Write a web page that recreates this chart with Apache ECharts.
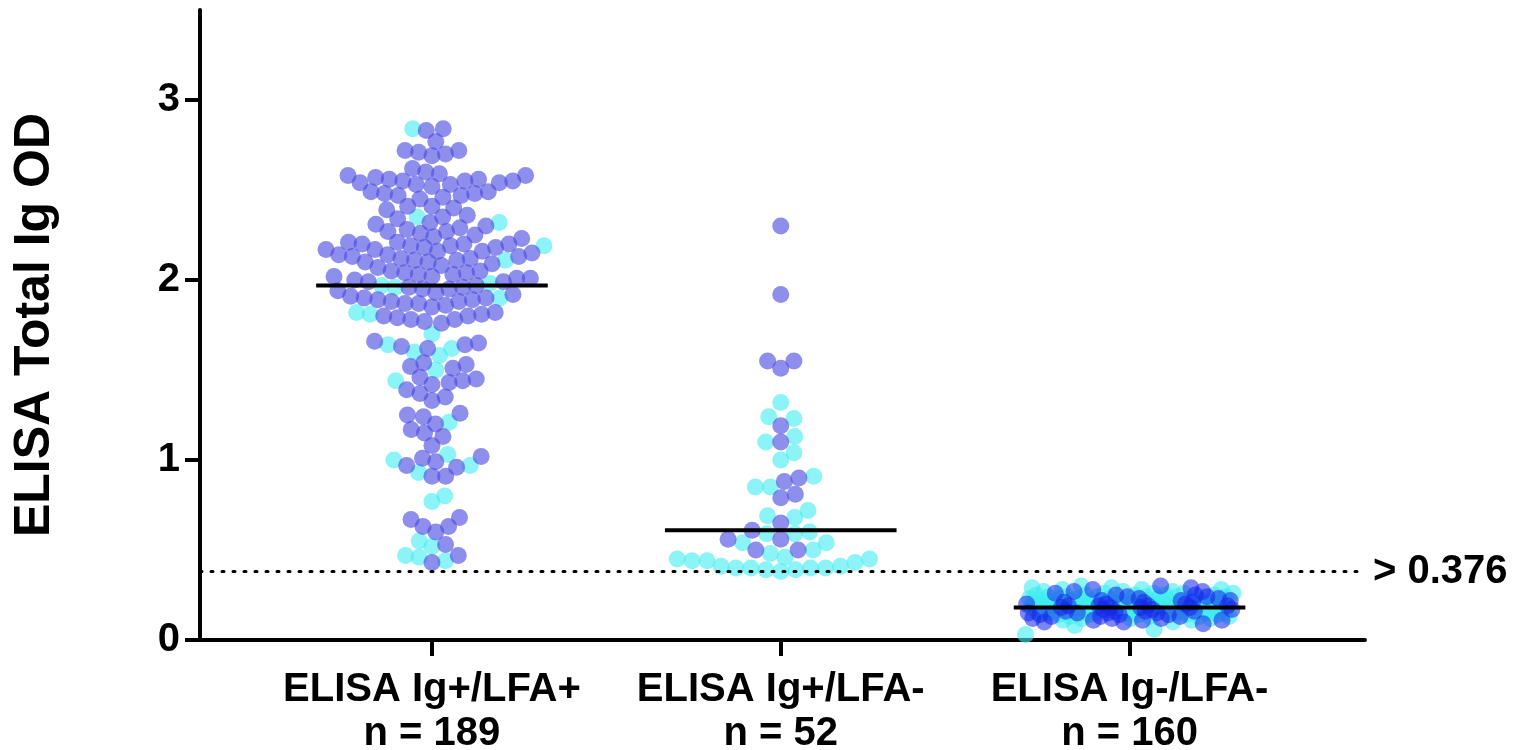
<!DOCTYPE html>
<html><head><meta charset="utf-8">
<script src="https://cdn.jsdelivr.net/npm/echarts@6/dist/echarts.min.js"></script>
<style>html,body{margin:0;padding:0;background:#fff}#c{width:1518px;height:750px}</style>
</head><body><div id="c"></div>
<script>
const categories = ['ELISA Ig+/LFA+', 'ELISA Ig+/LFA-', 'ELISA Ig-/LFA-'];
const counts = ['n = 189', 'n = 52', 'n = 160'];
const yTicks = [0, 1, 2, 3];
const medians = [1.97, 0.61, 0.18];
const threshold = 0.376;
const thresholdLabel = '> 0.376';

const g1Purple = [
2.84, 2.83, 2.77,
2.72, 2.71, 2.72, 2.70, 2.69,
2.62, 2.60, 2.59, 2.58, 2.57, 2.58,
2.55, 2.54, 2.56, 2.55, 2.53, 2.54, 2.55, 2.56, 2.52, 2.53,
2.49, 2.48, 2.47, 2.46, 2.48, 2.45, 2.47, 2.49,
2.41, 2.40, 2.39, 2.41,
2.36, 2.34, 2.32, 2.35, 2.30, 2.31,
2.29, 2.28, 2.27, 2.26, 2.25, 2.27, 2.24, 2.23,
2.20, 2.19, 2.21, 2.18, 2.20, 2.19, 2.17, 2.16, 2.21, 2.18, 2.20, 2.17, 2.16, 2.15, 2.14, 2.14,
2.13, 2.12, 2.11, 2.10, 2.12, 2.09, 2.08, 2.11, 2.10, 2.07, 2.13,
2.05, 2.04, 2.03, 2.02, 2.01, 2.00, 2.04, 2.03, 2.02, 1.99, 2.01, 2.05, 1.99,
1.97, 1.96, 1.95, 1.96, 1.94, 1.93, 1.95, 1.92,
1.91, 1.90, 1.89, 1.88, 1.87, 1.90, 1.89, 1.88, 1.86, 1.87, 1.85,
1.82, 1.81, 1.80, 1.79, 1.78, 1.77, 1.76, 1.80, 1.78,
1.66, 1.65, 1.64, 1.63, 1.62,
1.54, 1.53, 1.52, 1.51,
1.46, 1.45, 1.44, 1.43, 1.42,
1.39, 1.37, 1.35, 1.33,
1.26, 1.25, 1.24, 1.20, 1.17, 1.15, 1.13,
1.08, 1.02, 1.01, 0.99, 0.97, 0.96, 0.91, 0.91,
0.68, 0.67, 0.63, 0.63, 0.60,
0.53, 0.47, 0.43
];
const g1Cyan = [2.84, 2.35, 2.32, 2.19, 2.11, 1.98, 1.97, 1.96, 1.90, 1.82, 1.81, 1.70, 1.64, 1.62, 1.60,
1.58, 1.50, 1.44, 1.21, 1.03, 1.00, 0.97, 0.93, 0.80, 0.77, 0.55, 0.52, 0.47, 0.46, 0.44];

const g2Purple = [2.30, 1.92, 1.55, 1.55, 1.51, 1.19, 1.10, 0.90, 0.88, 0.81, 0.79, 0.65, 0.61, 0.56, 0.56, 0.50, 0.50];
const g2Cyan = [1.32, 1.24, 1.23, 1.13, 1.10, 1.04, 1.00, 0.91, 0.85, 0.85, 0.72, 0.69, 0.68, 0.60, 0.59, 0.59,
0.54, 0.54, 0.50, 0.48, 0.46, 0.45, 0.45, 0.44, 0.44, 0.43, 0.41, 0.41, 0.40, 0.40, 0.40, 0.40, 0.39, 0.39, 0.38];

const g3Blue = [0.30, 0.29, 0.28, 0.27, 0.27, 0.26, 0.25, 0.25, 0.24, 0.24, 0.23, 0.23, 0.22, 0.22,
0.21, 0.21, 0.21, 0.20, 0.20, 0.20, 0.19, 0.19, 0.19, 0.18, 0.18, 0.18, 0.18, 0.17, 0.17, 0.17,
0.16, 0.16, 0.16, 0.15, 0.15, 0.15, 0.15, 0.14, 0.14, 0.14, 0.13, 0.13, 0.13, 0.12, 0.12, 0.12,
0.11, 0.11, 0.11, 0.10, 0.10, 0.09, 0.22, 0.19, 0.16];
const g3Cyan = [0.30, 0.29, 0.29, 0.28, 0.28, 0.28, 0.27, 0.27, 0.27, 0.26, 0.26, 0.26, 0.26,
0.25, 0.25, 0.25, 0.25, 0.25, 0.24, 0.24, 0.24, 0.24, 0.24, 0.24, 0.23, 0.23, 0.23, 0.23, 0.23, 0.23,
0.22, 0.22, 0.22, 0.22, 0.22, 0.22, 0.22, 0.21, 0.21, 0.21, 0.21, 0.21, 0.21, 0.21,
0.20, 0.20, 0.20, 0.20, 0.20, 0.20, 0.20, 0.20, 0.19, 0.19, 0.19, 0.19, 0.19, 0.19, 0.19, 0.19,
0.18, 0.18, 0.18, 0.18, 0.18, 0.18, 0.18, 0.17, 0.17, 0.17, 0.17, 0.17, 0.17, 0.17,
0.16, 0.16, 0.16, 0.16, 0.16, 0.16, 0.16, 0.15, 0.15, 0.15, 0.15, 0.15, 0.15,
0.14, 0.14, 0.14, 0.14, 0.14, 0.13, 0.13, 0.13, 0.13, 0.12, 0.12, 0.12, 0.11, 0.11, 0.10, 0.08, 0.06, 0.03];

// ---- layout of the swarm (pixel-based collision, then mapped back to axis units) ----
const X_MIN = -0.665, X_MAX = 2.675, Y_MAX = 3.5;
const GRID = {left: 200, right: 153, top: 10, bottom: 110, outerBoundsMode: 'none', containLabel: false};
const PX_X = (1518 - GRID.left - GRID.right) / (X_MAX - X_MIN);
const PX_Y = (750 - GRID.top - GRID.bottom) / Y_MAX;
const DOT = 17, SPACING = 15, MAX_HALF = 112, DENSE_HALF = 104;

function swarm(groupIdx, sets) {
  const pts = [];
  sets.forEach((vals, si) => vals.forEach(v => pts.push({v, si, y: v * PX_Y, x: 0})));
  pts.sort((a, b) => a.v - b.v);
  const placed = [];
  const d = SPACING;
  for (const p of pts) {
    const near = placed.filter(q => Math.abs(q.y - p.y) < d);
    const cands = [0];
    near.forEach(q => {
      const dx = Math.sqrt(d * d - (q.y - p.y) * (q.y - p.y));
      cands.push(q.x + dx, q.x - dx);
    });
    cands.sort((a, b) => Math.abs(a) - Math.abs(b));
    for (const c of cands) {
      const ok = near.every(q => (q.x - c) * (q.x - c) + (q.y - p.y) * (q.y - p.y) >= d * d - 0.01);
      if (ok) { p.x = c; break; }
    }
    placed.push(p);
  }
  const maxAbs = Math.max(...placed.map(p => Math.abs(p.x)));
  const k = maxAbs > MAX_HALF ? MAX_HALF / maxAbs : 1;
  const out = sets.map(() => []);
  placed.forEach(p => out[p.si].push([groupIdx + p.x * k / PX_X, p.v]));
  return out;
}

// too many points for a swarm: spread them evenly across the column width (low-discrepancy order)
function denseColumn(groupIdx, sets) {
  const pts = [];
  sets.forEach((vals, si) => vals.forEach(v => pts.push({v, si})));
  pts.sort((a, b) => a.v - b.v);
  const out = sets.map(() => []);
  pts.forEach((p, i) => {
    const f = (i * 0.6180339887) % 1;
    out[p.si].push([groupIdx + (f * 2 - 1) * DENSE_HALF / PX_X, p.v]);
  });
  return out;
}

const s1 = swarm(0, [g1Purple, g1Cyan]);
const s2 = swarm(1, [g2Purple, g2Cyan]);
const s3 = denseColumn(2, [g3Blue, g3Cyan]);

const FONT = 'Liberation Sans, Arial, sans-serif';
const medianHalf = 0.332;
const medianSeries = medians.map((m, i) => ({
  type: 'line', silent: true, symbol: 'none', z: 10,
  data: [[i - medianHalf, m], [i + medianHalf, m]],
  lineStyle: {color: '#000', width: 4}
}));

const chart = echarts.init(document.getElementById('c'));
chart.setOption({
  animation: false,
  grid: GRID,
  xAxis: {
    type: 'value', min: X_MIN, max: X_MAX,
    splitLine: {show: false},
    axisLine: {show: true, onZero: false, lineStyle: {color: '#000', width: 4}},
    axisTick: {show: true, customValues: [0, 1, 2], length: 16, lineStyle: {color: '#000', width: 4}},
    axisLabel: {
      customValues: [0, 1, 2], margin: 28, color: '#000',
      fontFamily: FONT, fontWeight: 'bold', fontSize: 40, lineHeight: 44,
      formatter: v => categories[Math.round(v)] + '\n' + counts[Math.round(v)]
    }
  },
  yAxis: {
    type: 'value', min: 0, max: Y_MAX,
    splitLine: {show: false},
    name: 'ELISA Total Ig OD', nameLocation: 'middle', nameGap: 140, nameRotate: 90,
    nameTextStyle: {color: '#000', fontFamily: FONT, fontWeight: 'bold', fontSize: 50},
    axisLine: {show: true, onZero: false, lineStyle: {color: '#000', width: 4}},
    axisTick: {show: true, customValues: yTicks, length: 15, lineStyle: {color: '#000', width: 4}},
    axisLabel: {customValues: yTicks, margin: 20, color: '#000', fontFamily: FONT, fontWeight: 'bold', fontSize: 40}
  },
  series: [
    {
      type: 'scatter', name: 'cyan', symbolSize: DOT, z: 2,
      itemStyle: {color: 'rgba(64,236,240,0.75)'},
      data: [].concat(s1[1], s2[1], s3[1]),
      markLine: {
        silent: true, symbol: 'none',
        data: [{yAxis: threshold}],
        lineStyle: {color: '#000', width: 3, type: [2, 9], cap: 'round'},
        label: {show: true, position: 'end', distance: 8, formatter: thresholdLabel, color: '#000',
          fontFamily: FONT, fontWeight: 'bold', fontSize: 40}
      }
    },
    {
      type: 'scatter', name: 'purple', symbolSize: DOT, z: 3,
      itemStyle: {color: 'rgba(74,74,224,0.78)'},
      data: [].concat(s1[0], s2[0])
    },
    {
      type: 'scatter', name: 'blue', symbolSize: DOT, z: 3,
      itemStyle: {color: 'rgba(20,40,235,0.7)'},
      data: s3[0]
    }
  ].concat(medianSeries)
});
</script>
</body></html>
